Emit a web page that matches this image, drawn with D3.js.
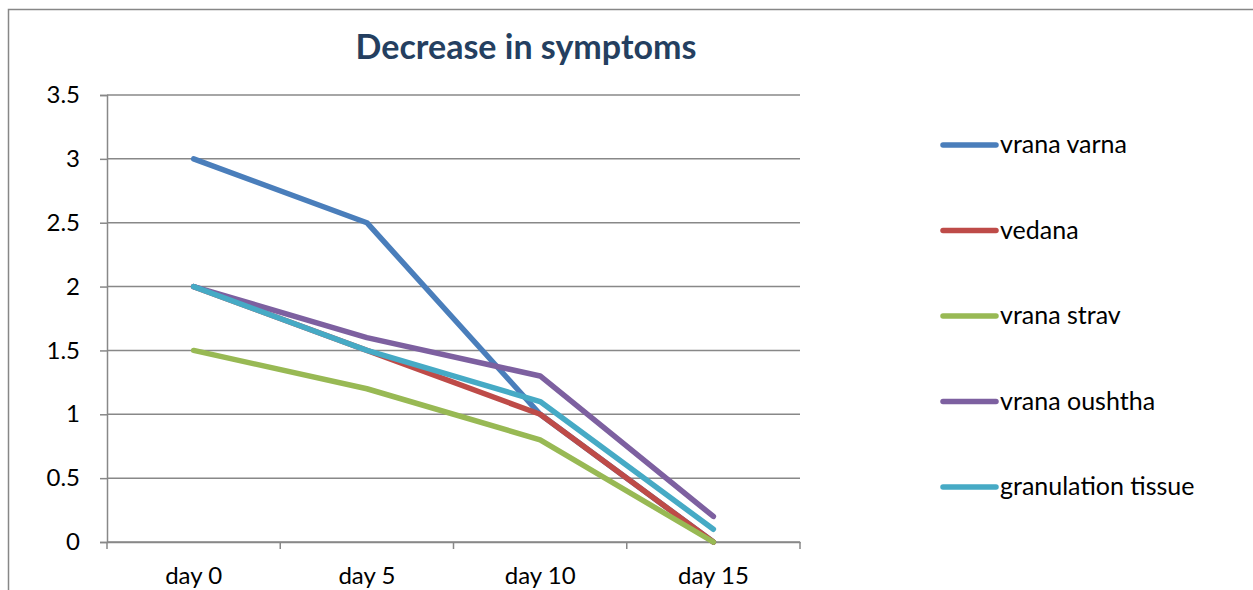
<!DOCTYPE html>
<html>
<head>
<meta charset="utf-8">
<script src="https://cdnjs.cloudflare.com/ajax/libs/d3/7.8.5/d3.min.js"></script>
<style>
  body { margin: 0; background: #fff; }
  svg text { font-family: Lato, "Open Sans", sans-serif; }
</style>
</head>
<body>
<svg id="chart" width="1253" height="590"></svg>
<script>
// chart data
var days = ['day 0', 'day 5', 'day 10', 'day 15'];
var seriesNames = ['vrana varna', 'vedana', 'vrana strav', 'vrana oushtha', 'granulation tissue'];
var vranaVarna = [3, 2.5, 1, 0];
var vedana = [2, 1.5, 1, 0];
var vranaStrav = [1.5, 1.2, 0.8, 0];
var vranaOushtha = [2, 1.6, 1.3, 0.2];
var granulation = [2, 1.5, 1.1, 0.1];
var yTicks = [0, 0.5, 1, 1.5, 2, 2.5, 3, 3.5];
var colors = ['#4A7EBB', '#BE4B48', '#98B954', '#7D60A0', '#46AAC5'];

var series = [vranaVarna, vedana, vranaStrav, vranaOushtha, granulation];

var svg = d3.select('#chart');

// outer frame (left and top edges only visible)
svg.append('path')
    .attr('d', 'M8.5,590 V9.5 H1253')
    .attr('fill', 'none').attr('stroke', '#878787').attr('stroke-width', 1.5);

var plotLeft = 107, plotRight = 800, plotTop = 95, plotBottom = 542;

var x = d3.scaleBand().domain(days).range([plotLeft, plotRight]);
var y = d3.scaleLinear().domain([0, 3.5]).range([plotBottom, plotTop]);

// gridlines
svg.append('g').selectAll('line').data(yTicks).enter().append('line')
    .attr('x1', plotLeft).attr('x2', plotRight)
    .attr('y1', function(d) { return y(d); }).attr('y2', function(d) { return y(d); })
    .attr('stroke', '#888').attr('stroke-width', 1.5);

// y axis
var yAxis = svg.append('g').attr('transform', 'translate(' + plotLeft + ',0)')
    .call(d3.axisLeft(y).tickValues(yTicks).tickSize(7).tickPadding(20).tickFormat(d3.format('')));
yAxis.select('.domain').attr('stroke', '#888').attr('stroke-width', 1.5);
yAxis.selectAll('.tick line').attr('stroke', '#888').attr('stroke-width', 1.5);
yAxis.selectAll('text').style('font-size', '24px').style('fill', '#000');

// x axis
var xAxis = svg.append('g').attr('transform', 'translate(0,' + plotBottom + ')')
    .call(d3.axisBottom(x).tickSize(0).tickPadding(25));
xAxis.select('.domain').attr('stroke', '#888').attr('stroke-width', 1.5);
xAxis.selectAll('text').style('font-size', '24px').style('fill', '#000');
var edges = days.map(function(d) { return x(d); }).concat([plotRight]);
xAxis.selectAll('.edge').data(edges).enter().append('line')
    .attr('x1', function(d) { return d; }).attr('x2', function(d) { return d; })
    .attr('y1', 0).attr('y2', 7)
    .attr('stroke', '#888').attr('stroke-width', 1.5);

// lines
var line = d3.line()
    .x(function(d, i) { return x(days[i]) + x.bandwidth() / 2; })
    .y(function(d) { return y(d); });

svg.append('g').selectAll('path').data(series).enter().append('path')
    .attr('d', line)
    .attr('fill', 'none')
    .attr('stroke', function(d, i) { return colors[i]; })
    .attr('stroke-width', 5.5)
    .attr('stroke-linejoin', 'round')
    .attr('stroke-linecap', 'round');

// title
svg.append('text')
    .attr('x', 526).attr('y', 59)
    .attr('text-anchor', 'middle')
    .style('font-size', '34px').style('font-weight', 'bold')
    .style('fill', '#243F60')
    .text('Decrease in symptoms');

// legend
var legend = svg.append('g').selectAll('g').data(seriesNames).enter().append('g')
    .attr('transform', function(d, i) { return 'translate(943,' + (145 + i * 85.5) + ')'; });
legend.append('line')
    .attr('x1', 0).attr('x2', 53).attr('y1', 0).attr('y2', 0)
    .attr('stroke', function(d, i) { return colors[i]; })
    .attr('stroke-width', 5.5).attr('stroke-linecap', 'round');
legend.append('text')
    .attr('x', 57).attr('y', 8)
    .style('font-size', '25px').style('fill', '#000')
    .text(function(d) { return d; });
</script>
</body>
</html>
